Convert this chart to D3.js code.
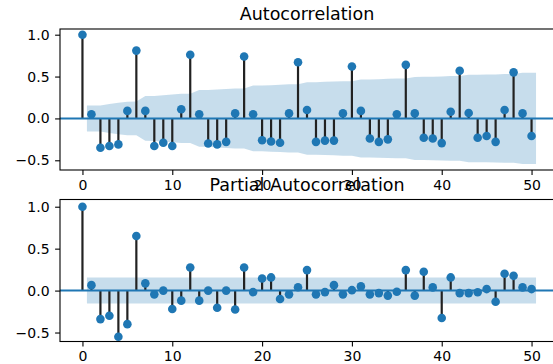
<!DOCTYPE html>
<html>
<head>
<meta charset="utf-8">
<script src="https://cdn.jsdelivr.net/npm/d3@7/dist/d3.min.js"></script>
<style>
  body { margin: 0; background: #fff; }
  svg { display: block; font-family: "DejaVu Sans", sans-serif; }
</style>
</head>
<body>
<div id="chart"></div>
<script>
// autocorrelation at lags 0..50
const acfValues = [
  1.0, 0.05, -0.35, -0.33, -0.31, 0.09, 0.81, 0.09, -0.33, -0.29,
  -0.33, 0.11, 0.76, 0.05, -0.30, -0.31, -0.28, 0.06, 0.74, 0.05,
  -0.26, -0.275, -0.29, 0.06, 0.67, 0.10, -0.28, -0.265, -0.265, 0.06,
  0.62, 0.09, -0.24, -0.28, -0.25, 0.05, 0.64, 0.06, -0.23, -0.24,
  -0.295, 0.08, 0.57, 0.065, -0.23, -0.21, -0.28, 0.10, 0.55, 0.06,
  -0.21
];
// half width of the shaded confidence band, lags 1..50
const acfBand = [
  0.155, 0.155, 0.173, 0.188, 0.200, 0.201, 0.268, 0.269, 0.278, 0.285,
  0.294, 0.295, 0.339, 0.339, 0.346, 0.352, 0.358, 0.358, 0.393, 0.393,
  0.397, 0.402, 0.407, 0.407, 0.433, 0.433, 0.437, 0.441, 0.445, 0.445,
  0.466, 0.466, 0.469, 0.473, 0.476, 0.476, 0.496, 0.497, 0.499, 0.502,
  0.506, 0.506, 0.522, 0.522, 0.524, 0.526, 0.530, 0.530, 0.544, 0.544
];
// partial autocorrelation at lags 0..50
const pacfValues = [
  1.0, 0.065, -0.34, -0.30, -0.55, -0.40, 0.65, 0.086, -0.045, 0.0,
  -0.22, -0.12, 0.276, -0.12, 0.0, -0.205, 0.0, -0.225, 0.276, -0.018,
  0.145, 0.157, -0.10, -0.045, 0.04, 0.244, -0.045, -0.018, 0.065, -0.045,
  0.005, 0.05, -0.045, -0.03, -0.06, -0.014, 0.244, -0.06, 0.224, 0.038,
  -0.327, 0.157, -0.03, -0.03, -0.02, 0.018, -0.133, 0.20, 0.176, 0.038,
  0.018
];
const pacfBand = Array(50).fill(0.155);

const xTicks = [0, 10, 20, 30, 40, 50];
const yTicks = [-0.5, 0.0, 0.5, 1.0];
const titles = ['Autocorrelation', 'Partial Autocorrelation'];

const W = 553, H = 364;
const blue = '#1f77b4';
const left = 60, right = 554;

const panels = [
  { title: titles[0], values: acfValues, band: acfBand, top: 29, bottom: 170, yDomain: [-0.616, 1.068], titleY: 20 },
  { title: titles[1], values: pacfValues, band: pacfBand, top: 199.5, bottom: 341.5, yDomain: [-0.607, 1.086], titleY: 191 }
];

const svg = d3.select('#chart').append('svg')
  .attr('width', W)
  .attr('height', H);

const x = d3.scaleLinear().domain([-2.5, 52.5]).range([left, right]);
const fmt = v => d3.format('.1f')(v).replace('-', '\u2212');

panels.forEach(p => {
  const y = d3.scaleLinear().domain(p.yDomain).range([p.bottom, p.top]);
  const g = svg.append('g');
  const pts = p.values.map((v, i) => ({ lag: i, v }));

  // confidence band (edges pushed half a lag outwards)
  const bandPts = p.band.map((b, i) => ({
    lag: i === 0 ? 0.5 : (i === p.band.length - 1 ? i + 1.5 : i + 1),
    b
  }));
  g.append('path')
    .datum(bandPts)
    .attr('fill', blue)
    .attr('fill-opacity', 0.25)
    .attr('d', d3.area().x(d => x(d.lag)).y0(d => y(-d.b)).y1(d => y(d.b)));

  // stems
  g.selectAll('line.stem').data(pts).join('line')
    .attr('class', 'stem')
    .attr('x1', d => x(d.lag)).attr('x2', d => x(d.lag))
    .attr('y1', y(0)).attr('y2', d => y(d.v))
    .attr('stroke', '#222')
    .attr('stroke-width', 2.2);

  // zero line
  g.append('line')
    .attr('x1', left).attr('x2', right)
    .attr('y1', y(0)).attr('y2', y(0))
    .attr('stroke', blue)
    .attr('stroke-width', 2);

  // markers
  g.selectAll('circle').data(pts).join('circle')
    .attr('cx', d => x(d.lag))
    .attr('cy', d => y(d.v))
    .attr('r', 4.3)
    .attr('fill', blue);

  // frame
  g.append('rect')
    .attr('x', left).attr('y', p.top)
    .attr('width', right - left).attr('height', p.bottom - p.top)
    .attr('fill', 'none')
    .attr('stroke', '#000')
    .attr('stroke-width', 1.1);

  // x axis
  const xa = g.append('g').attr('transform', `translate(0,${p.bottom})`)
    .call(d3.axisBottom(x).tickValues(xTicks).tickSize(4.9).tickPadding(4.9).tickFormat(d3.format('d')));
  xa.select('.domain').remove();
  xa.selectAll('line').attr('stroke', '#000').attr('stroke-width', 1.1);
  xa.selectAll('text').attr('font-size', 14).attr('fill', '#000').attr('dy', '0.72em');

  // y axis
  const ya = g.append('g').attr('transform', `translate(${left},0)`)
    .call(d3.axisLeft(y).tickValues(yTicks).tickSize(4.9).tickPadding(5.5).tickFormat(fmt));
  ya.select('.domain').remove();
  ya.selectAll('line').attr('stroke', '#000').attr('stroke-width', 1.1);
  ya.selectAll('text').attr('font-size', 14).attr('fill', '#000');

  g.attr('font-family', null);
  xa.attr('font-family', null);
  ya.attr('font-family', null);

  // title
  svg.append('text')
    .attr('x', (left + right) / 2)
    .attr('y', p.titleY)
    .attr('text-anchor', 'middle')
    .attr('font-size', 17.5)
    .attr('fill', '#000')
    .text(p.title);
});
</script>
</body>
</html>
